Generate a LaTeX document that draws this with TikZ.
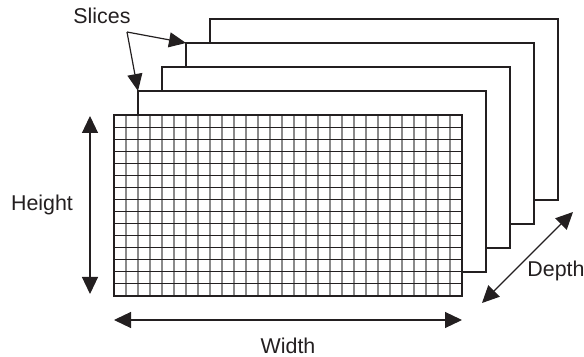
\documentclass[tikz,border=0pt]{standalone}
\usepackage{fontspec}
\setmainfont{Liberation Sans}
\usetikzlibrary{arrows.meta,calc,positioning}
\definecolor{ink}{HTML}{231F20}
\definecolor{gridgray}{HTML}{8A8A8A}

\begin{document}
\begin{tikzpicture}[x=0.5pt,y=-0.5pt,
  slice/.style={draw=ink,fill=white,line width=0.85pt},
  vline/.style={draw=gridgray,line width=0.55pt},
  hline/.style={draw=ink,line width=0.55pt},
  dim/.style={{Triangle[length=8.5pt,width=8pt]}-{Triangle[length=8.5pt,width=8pt]},draw=ink,line width=0.6pt},
  ptr/.style={-{Triangle[length=8.5pt,width=7.5pt]},draw=ink,line width=0.6pt},
  lbl/.style={font=\fontsize{10.7}{12}\selectfont,text=ink,inner sep=1pt}
]
\useasboundingbox (0,0) rectangle (584,357);
% slices, back to front
\foreach \k in {4,3,2,1}
  \draw[slice] (114+24*\k,115-24*\k) coordinate (c\k) rectangle (462+24*\k,296-24*\k);
% front slice with its grid
\fill[white] (114,115) rectangle (462,296);
\foreach \i in {1,...,28}
  \draw[vline] (114+12*\i,115) -- (114+12*\i,296);
\foreach \j in {1,...,14}
  \draw[hline] (114,115+12.067*\j) -- (462,115+12.067*\j);
\draw[slice,fill=none] (114,115) coordinate (c0) rectangle (462,296);
% dimensions
\coordinate (h1) at (90,116);
\coordinate (h2) at (90,294);
\coordinate (w1) at (114,320);
\coordinate (w2) at (462,320);
\coordinate (d1) at (482,303);
\coordinate (d2) at (573,212);
\draw[dim] (h1) -- (h2);
\draw[dim] (w1) -- (w2);
\draw[dim] (d1) -- (d2);
\node[lbl] (height) at (42,205) {Height};
\node[lbl] (width) at (288,346) {Width};
\node[lbl] (depth) at (556,271) {Depth};
% slice pointers
\node[lbl] (slices) at (102,16) {Slices};
\coordinate (s0) at (127,32);
\draw[ptr] (s0) -- (c3);
\draw[ptr] (s0) -- (c1);
\end{tikzpicture}
\end{document}
